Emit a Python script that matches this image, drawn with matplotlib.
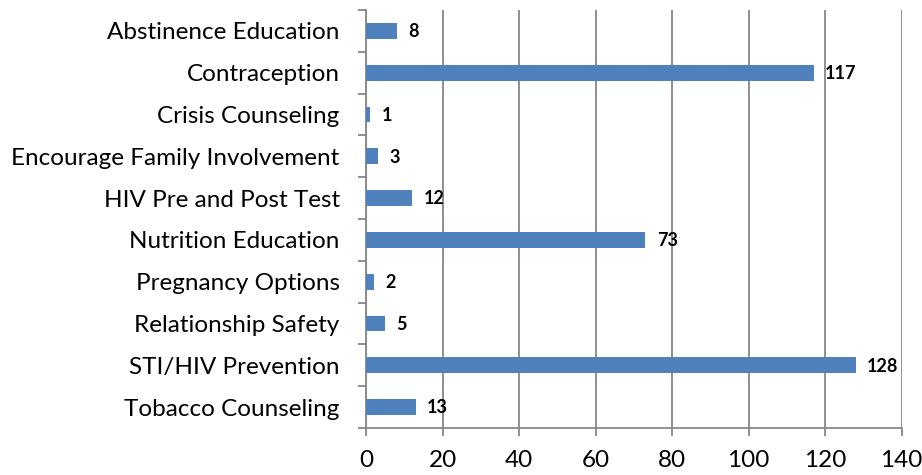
import matplotlib
matplotlib.use("Agg")
import matplotlib.pyplot as plt
import numpy as np

categories = ["Abstinence Education", "Contraception", "Crisis Counseling",
              "Encourage Family Involvement", "HIV Pre and Post Test",
              "Nutrition Education", "Pregnancy Options", "Relationship Safety",
              "STI/HIV Prevention", "Tobacco Counseling"]
values = [8, 117, 1, 3, 12, 73, 2, 5, 128, 13]
xticks = [0, 20, 40, 60, 80, 100, 120, 140]

plt.rcParams['font.family'] = ['Lato', 'DejaVu Sans']

fig = plt.figure(figsize=(9.22, 4.75), dpi=100)
ax = fig.add_axes([0.397, 0.099, 0.581, 0.880])

y = np.arange(len(categories))
ax.barh(y, values, height=0.38, color="#4F81BD", zorder=3)
for yi, v in zip(y, values):
    ax.text(v + 3.0, yi + 0.02, str(v), va="center", ha="left",
            fontsize=13, fontweight="bold", color="black", zorder=4)

ax.set_xlim(0, 140)
ax.set_ylim(len(categories) - 0.5, -0.5)
ax.set_xticks(xticks)
ax.set_xticklabels([str(t) for t in xticks], fontsize=17.5)
ax.set_yticks(y)
ax.set_yticklabels(categories, fontsize=17.5)
ax.tick_params(axis="y", length=0, pad=19)
ax.set_yticks(np.arange(len(categories) + 1) - 0.5, minor=True)
ax.tick_params(axis="y", which="minor", length=6, width=1.3, color="#878787")
ax.tick_params(axis="x", length=6, width=1.3, color="#878787", pad=10)

ax.grid(axis="x", color="#878787", linewidth=1.3, zorder=0)
for s in ["top", "right"]:
    ax.spines[s].set_visible(False)
for s in ["left", "bottom"]:
    ax.spines[s].set_color("#878787")
    ax.spines[s].set_linewidth(1.3)

fig.savefig("out.png", dpi=100)
